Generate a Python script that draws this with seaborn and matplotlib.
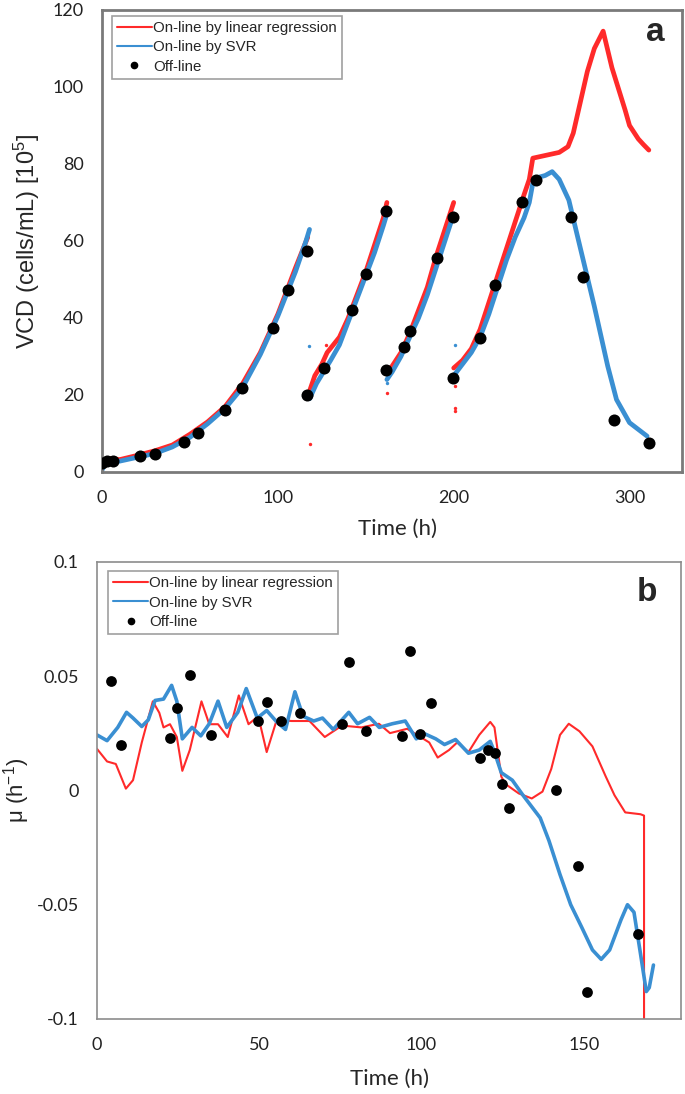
import numpy as np
import pandas as pd
import seaborn as sns
import matplotlib.pyplot as plt

# ---- panel a: VCD (10^5 cells/mL) vs time (h) ----
off_t = [0, 3, 6, 21.6, 30, 46.5, 54.4, 70, 79.5, 97.4, 106, 116.8,
         116.8, 126.5, 142, 150.4, 161.3,
         161.3, 172, 175.2, 190.6, 199.4,
         199.4, 214.8, 223.5, 238.6, 246.8, 266.9, 273.7, 291.3, 311]
off_vcd = [2.4, 2.8, 2.8, 4.1, 4.7, 7.9, 10, 16, 21.8, 37.4, 47.3, 57.3,
           20.1, 27, 42, 51.3, 67.8,
           26.6, 32.4, 36.5, 55.7, 66.1,
           24.4, 34.8, 48.5, 70.2, 75.8, 66.1, 50.6, 13.5, 7.6]

lr_batch = [1] * 14 + [2] * 11 + [3] * 9 + [4] * 26
lr_t = [0, 5, 10, 20, 30, 40, 50, 60, 70, 80, 90, 100, 110, 117,
        118, 121, 125, 128, 135, 140, 145, 150, 155, 160, 162,
        162, 165, 170, 175, 180, 185, 190, 195, 200,
        200, 205, 210, 215, 220, 225, 230, 235, 240, 243, 245, 250, 255, 260, 265,
        268, 272, 276, 280, 285, 290, 297.5, 300, 305, 308, 311]
lr_vcd = [2.5, 3.5, 3.2, 4.3, 5.5, 7, 9.8, 13, 17, 23, 31, 41, 53, 61,
          21, 25, 28, 31, 35, 40, 46, 52, 59, 66, 70,
          26, 27.5, 31, 36, 42, 48, 56, 63, 70,
          27, 29, 32, 37, 44, 51, 58, 65, 72, 76, 81.5, 82, 82.5, 83, 84.5,
          88, 96, 104, 110, 114.5, 105, 94, 90, 86.5, 85, 83.6]

svr_batch = [1] * 15 + [2] * 11 + [3] * 9 + [4] * 22
svr_t = [0, 2, 10, 20, 30, 40, 50, 60, 70, 80, 90, 100, 110, 116, 118,
         118, 122, 126, 130, 135, 140, 145, 150, 155, 160, 162,
         162, 165, 170, 175, 180, 185, 190, 195, 200,
         200, 205, 210, 215, 220, 225, 230, 235, 240, 243, 245, 248, 252, 256,
         260, 265.5, 270, 280, 287.6, 292.6, 300, 310]
svr_vcd = [0.5, 2.5, 2.8, 3.8, 4.8, 6.5, 9, 12.5, 16.5, 22, 30.5, 40.5, 52, 60, 63,
           19, 23, 26, 29, 33, 39, 45, 51, 57, 64, 67,
           24, 26, 30, 35, 40, 46, 53, 60, 67,
           25, 28, 31, 35, 41, 48, 55, 61, 66, 70, 75, 76.5, 77, 78,
           76, 70.6, 62, 43, 27.5, 18.8, 12.8, 9.3]

lr_out_t = [118, 127.3, 162, 200.5, 200.5, 200.5]
lr_out_vcd = [7.2, 33, 20.5, 16.7, 15.8, 22.3]
svr_out_t = [117.5, 200.5, 162]
svr_out_vcd = [32.6, 33, 23.1]

# ---- panel b: specific growth rate (1/h) vs time (h) ----
mu_off_t = [4.4, 7.5, 22.5, 24.8, 28.6, 35, 49.7, 52.3, 56.8, 62.6, 75.6, 77.6,
            83, 94, 96.4, 99.7, 102.8, 118, 120.5, 122.8, 124.8, 127, 141.6,
            148.3, 151, 166.8]
mu_off = [0.0477, 0.0201, 0.0229, 0.0361, 0.0505, 0.0243, 0.0304, 0.0386, 0.0304,
          0.0337, 0.0292, 0.0561, 0.0262, 0.0239, 0.0612, 0.0248, 0.0384, 0.0144,
          0.0177, 0.0163, 0.0028, -0.0076, 0.0, -0.033, -0.0883, -0.0629]

mu_lr_t = [0, 3.1, 5.8, 8.9, 11.1, 13.8, 17.2, 19.2, 20.5, 22.5, 24.6, 26.3, 28.6,
           32.2, 34.6, 37.3, 40.3, 43.7, 46.7, 49.7, 52.3, 55.4, 60, 65.5, 70.2,
           75.5, 81.5, 86.9, 90.3, 95.6, 99.7, 102.4, 105, 108.5, 111, 114.5,
           117.8, 121.2, 122.5, 124.6, 125.9, 130, 134, 137.3, 140, 142.7, 145.4,
           148.7, 152.7, 156.8, 159.5, 162.8, 167.5, 168.6, 168.6]
mu_lr = [0.0182, 0.0127, 0.0116, 0.0008, 0.0045, 0.021, 0.039, 0.034, 0.0276,
         0.029, 0.0234, 0.0086, 0.0177, 0.039, 0.029, 0.029, 0.0234, 0.0416,
         0.029, 0.0325, 0.0168, 0.0309, 0.0304, 0.0304, 0.0234, 0.0284, 0.0276,
         0.0292, 0.0251, 0.027, 0.0234, 0.021, 0.0144, 0.0177, 0.021, 0.0168,
         0.0243, 0.03, 0.0276, 0.0061, 0.0028, -0.0013, -0.0035, -0.0005, 0.0094,
         0.0243, 0.0292, 0.0259, 0.0193, 0.0061, -0.0021, -0.0096, -0.0104,
         -0.011, -0.11]

mu_svr_t = [0, 3.1, 6.4, 9.1, 11.1, 13.8, 15.8, 17.9, 20.5, 23, 24.6, 26.3, 29.3,
            32, 34.6, 37.3, 40, 43.4, 46, 49.4, 52.3, 55.4, 58.1, 61, 63.5, 66.8,
            69.5, 72.8, 77.6, 80.3, 84, 87, 91, 95, 98.4, 101, 104.4, 107.1, 110.5,
            114.5, 117.8, 121.2, 122.5, 124.6, 128, 131.3, 136.6, 139.3, 142.7, 146,
            149.4, 152.7, 155.4, 158, 161.5, 163.5, 165.5, 167.5, 169.3, 170.2, 171.5]
mu_svr = [0.0243, 0.0218, 0.0276, 0.0342, 0.0317, 0.028, 0.0309, 0.0394, 0.04,
          0.046, 0.0391, 0.0226, 0.0276, 0.0239, 0.0292, 0.0391, 0.0276, 0.0342,
          0.0446, 0.0317, 0.035, 0.03, 0.0267, 0.0432, 0.0325, 0.0304, 0.0317,
          0.0267, 0.0342, 0.0292, 0.032, 0.0276, 0.0292, 0.0304, 0.0226, 0.0248,
          0.0226, 0.0201, 0.0223, 0.0163, 0.0177, 0.0215, 0.0168, 0.0078, 0.0045,
          -0.0021, -0.012, -0.022, -0.0368, -0.05, -0.0599, -0.0698, -0.0739,
          -0.0698, -0.0566, -0.05, -0.0533, -0.0714, -0.088, -0.0863, -0.0764]

RED = '#ff2a2a'
BLUE = '#3a8fd2'

sns.set_style('white')
plt.rcParams['font.family'] = ['Lato', 'DejaVu Sans']
plt.rcParams['mathtext.fontset'] = 'custom'
plt.rcParams['mathtext.rm'] = 'Liberation Sans'
plt.rcParams['mathtext.it'] = 'Liberation Sans:italic'

fig = plt.figure(figsize=(6.85, 10.94), dpi=100)
ax1 = fig.add_axes([0.149, 0.5686, 0.847, 0.4223])
ax2 = fig.add_axes([0.1416, 0.0686, 0.8526, 0.4177])

lr_df = pd.DataFrame({'t': lr_t, 'v': lr_vcd, 'batch': lr_batch})
svr_df = pd.DataFrame({'t': svr_t, 'v': svr_vcd, 'batch': svr_batch})
off_df = pd.DataFrame({'t': off_t, 'v': off_vcd})

sns.lineplot(data=lr_df, x='t', y='v', units='batch', estimator=None, sort=False,
             color=RED, lw=3.4, ax=ax1)
sns.scatterplot(x=lr_out_t, y=lr_out_vcd, color=RED, s=6, linewidth=0, ax=ax1)
sns.lineplot(data=svr_df, x='t', y='v', units='batch', estimator=None, sort=False,
             color=BLUE, lw=3.4, ax=ax1)
sns.scatterplot(x=svr_out_t, y=svr_out_vcd, color=BLUE, s=6, linewidth=0, ax=ax1)
sns.scatterplot(data=off_df, x='t', y='v', color='black', s=75, linewidth=0,
                zorder=5, ax=ax1)

ax2.plot(mu_lr_t, mu_lr, color=RED, lw=1.5)
ax2.plot(mu_svr_t, mu_svr, color=BLUE, lw=2.6)
sns.scatterplot(x=mu_off_t, y=mu_off, color='black', s=60, linewidth=0, zorder=5, ax=ax2)

ax1.set_xlim(0, 330)
ax1.set_ylim(0, 120)
ax1.set_xticks([0, 100, 200, 300])
ax1.set_yticks(range(0, 121, 20))
ax2.set_xlim(0, 180)
ax2.set_ylim(-0.1, 0.1)
ax2.set_xticks([0, 50, 100, 150])
ax2.set_yticks([-0.1, -0.05, 0, 0.05, 0.1])
ax2.set_yticklabels(['-0.1', '-0.05', '0', '0.05', '0.1'])

ax1.set_xlabel('Time (h)', fontsize=16)
ax1.set_ylabel('VCD (cells/mL) [10$^5$]', fontsize=17, family='Liberation Sans')
ax2.set_xlabel('Time (h)', fontsize=16)
ax2.set_ylabel('μ (h$^{-1}$)', fontsize=16, family='Liberation Sans')
ax1.xaxis.set_label_coords(0.509, -0.102)
ax1.yaxis.set_label_coords(-0.103, 0.5)
ax2.xaxis.set_label_coords(0.5, -0.109)
ax2.yaxis.set_label_coords(-0.111, 0.5)

for ax, lw, ec in [(ax1, 2.0, '#7a7a7a'), (ax2, 1.2, '#8c8c8c')]:
    ax.tick_params(length=0, labelsize=13, pad=13, labelcolor='#222222')
    for sp in ax.spines.values():
        sp.set_color(ec)
        sp.set_linewidth(lw)
        sp.set_visible(True)

handles = [plt.Line2D([], [], color=RED, lw=1.5),
           plt.Line2D([], [], color=BLUE, lw=1.5),
           plt.Line2D([], [], color='black', marker='o', ls='', ms=4.5)]
labels = ['On-line by linear regression', 'On-line by SVR', 'Off-line']
for ax, anchor in [(ax1, (0.017, 0.987)), (ax2, (0.019, 0.980))]:
    leg = ax.legend(handles, labels, loc='upper left', bbox_to_anchor=anchor,
                    borderaxespad=0, fancybox=False, framealpha=1, edgecolor='#a0a0a0',
                    handlelength=2.3, handletextpad=0.1, labelspacing=0.35,
                    borderpad=0.35, prop={'family': 'Liberation Sans', 'size': 10.8})
    leg.get_frame().set_linewidth(1.2)

ax1.text(0.953, 0.952, 'a', transform=ax1.transAxes, fontsize=24, fontweight='bold',
         family='Liberation Sans', ha='center', va='center')
ax2.text(0.942, 0.934, 'b', transform=ax2.transAxes, fontsize=24, fontweight='bold',
         family='Liberation Sans', ha='center', va='center')

fig.savefig('out.png', dpi=100)
